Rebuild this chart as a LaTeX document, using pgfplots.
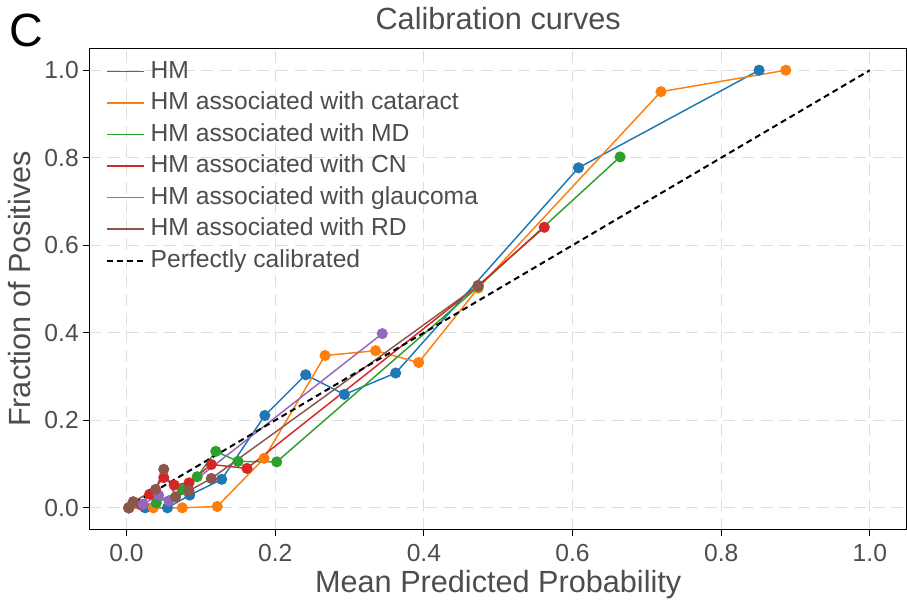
\documentclass[border=0pt]{standalone}
\usepackage{fontspec}
\setmainfont{Liberation Sans}
\usepackage{pgfplots}
\pgfplotsset{compat=1.18}
\definecolor{tabblue}{HTML}{1F77B4}
\definecolor{taborange}{HTML}{FF7F0E}
\definecolor{tabgreen}{HTML}{2CA02C}
\definecolor{tabred}{HTML}{D62728}
\definecolor{tabpurple}{HTML}{9467BD}
\definecolor{tabbrown}{HTML}{8C564B}
\definecolor{txtgray}{HTML}{4D4D4D}
\definecolor{gridgray}{HTML}{DEDEDE}
\begin{document}
\begin{tikzpicture}
\begin{axis}[
  scale only axis,
  width=613.8pt, height=361.35pt,
  xmin=-0.05, xmax=1.05, ymin=-0.05, ymax=1.05,
  xtick={0,0.2,0.4,0.6,0.8,1.0},
  ytick={0,0.2,0.4,0.6,0.8,1.0},
  /pgf/number format/.cd, fixed, fixed zerofill, precision=1, assume math mode=true,
  /pgfplots/.cd,
  tick label style={font=\fontsize{18.5}{18.5}\selectfont, text=txtgray},
  xticklabel style={yshift=-3pt},
  tick align=outside, tick pos=left,
  major tick length=4.5pt,
  every tick/.style={black, line width=0.8pt},
  grid=major,
  major grid style={gridgray, line width=0.8pt, dash pattern=on 9pt off 5pt},
  axis line style={black, line width=1pt},
  title={Calibration curves},
  title style={font=\fontsize{23}{23}\selectfont, text=txtgray, at={(axis description cs:0.5,1)}, anchor=base, yshift=8.5pt},
  xlabel={Mean Predicted Probability},
  ylabel={Fraction of Positives},
  xlabel style={font=\fontsize{23}{23}\selectfont, text=txtgray, at={(axis description cs:0.5,0)}, anchor=base, yshift=-47.1pt},
  ylabel style={font=\fontsize{23}{23}\selectfont, text=txtgray, at={(axis description cs:-0.0715,0.5)}, anchor=base},
  legend style={draw=none, fill=none, at={(axis description cs:0,1)}, anchor=north west,
    xshift=12.9pt, yshift=-8.8pt, inner sep=0pt, outer sep=0pt,
    font=\fontsize{18.5}{18.5}\selectfont, text=txtgray,
    row sep=6.7pt, column sep=4.5pt,
    nodes={inner sep=0pt, outer sep=0pt, text height=13.5pt, text depth=3.5pt}},
  legend cell align=left,
  legend image code/.code={\draw[#1, line width=1.1pt] (0pt,0pt) -- (27.5pt,0pt);},
  every axis plot/.append style={line width=1.1pt, mark=*, mark size=3.6pt},
]
\addplot[tabblue, mark options={fill=tabblue, draw=tabblue}] coordinates {
(0.003,0) (0.025,0) (0.055,0) (0.085,0.029) (0.128,0.065) (0.186,0.211) (0.241,0.304) (0.293,0.259) (0.362,0.308) (0.608,0.777) (0.851,1.0)};
\addlegendentry{HM}
\addplot[taborange, mark options={fill=taborange, draw=taborange}] coordinates {
(0.003,0) (0.036,0) (0.075,0) (0.122,0.003) (0.185,0.113) (0.267,0.348) (0.335,0.359) (0.393,0.332) (0.473,0.502) (0.719,0.951) (0.887,1.0)};
\addlegendentry{HM associated with cataract}
\addplot[tabgreen, mark options={fill=tabgreen, draw=tabgreen}] coordinates {
(0.003,0) (0.040,0.011) (0.075,0.042) (0.095,0.071) (0.120,0.129) (0.150,0.106) (0.202,0.105) (0.473,0.505) (0.664,0.802)};
\addlegendentry{HM associated with MD}
\addplot[tabred, mark options={fill=tabred, draw=tabred}] coordinates {
(0.003,0) (0.020,0.006) (0.031,0.031) (0.050,0.069) (0.064,0.052) (0.084,0.057) (0.114,0.099) (0.162,0.090) (0.473,0.508) (0.562,0.641)};
\addlegendentry{HM associated with CN}
\addplot[tabpurple, mark options={fill=tabpurple, draw=tabpurple}] coordinates {
(0.003,0) (0.022,0.008) (0.043,0.029) (0.057,0.016) (0.344,0.398)};
\addlegendentry{HM associated with glaucoma}
\addplot[tabbrown, mark options={fill=tabbrown, draw=tabbrown}] coordinates {
(0.003,0) (0.009,0.014) (0.039,0.042) (0.050,0.088) (0.066,0.025) (0.084,0.039) (0.114,0.067) (0.473,0.508)};
\addlegendentry{HM associated with RD}
\addplot[black, mark=none, line width=1.5pt, dash pattern=on 4.5pt off 3pt] coordinates {(0,0) (1,1)};
\addlegendentry{Perfectly calibrated}
\end{axis}
\node[anchor=base west, inner sep=0pt, font=\fontsize{35}{35}\selectfont, text=black] at ([xshift=-60.5pt, yshift=1.3pt]current axis.north west) {C};
\pgfresetboundingbox
\path (current axis.south west) ++(-67.125pt,-56.1pt) coordinate (bbsw);
\path (current axis.north east) ++(-0.675pt,36.3pt) coordinate (bbne);
\useasboundingbox (bbsw) rectangle (bbne);
\end{tikzpicture}
\end{document}
